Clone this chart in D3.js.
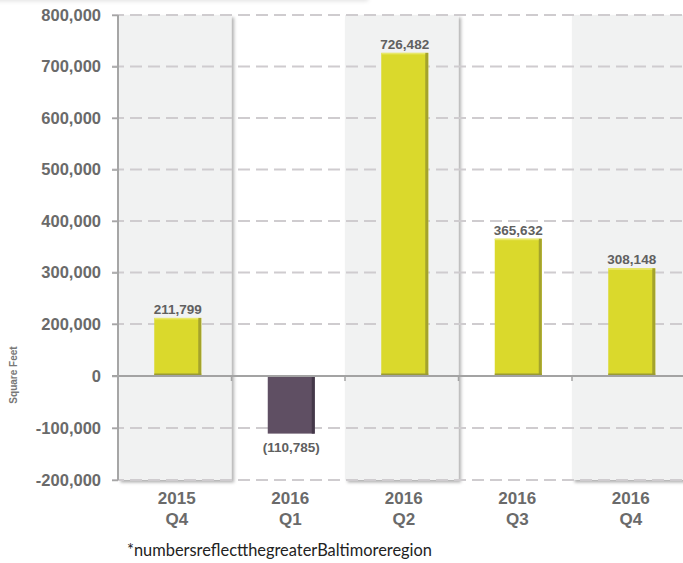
<!DOCTYPE html>
<html>
<head>
<meta charset="utf-8">
<script src="https://cdn.jsdelivr.net/npm/d3@7"></script>
<style>
  html, body { margin: 0; padding: 0; background: #ffffff; }
  svg { display: block; }
</style>
</head>
<body>
<svg id="chart" width="683" height="563"></svg>
<script>
// ---- data ----
const categories = ["2015 Q4", "2016 Q1", "2016 Q2", "2016 Q3", "2016 Q4"];
const yearLabels = ["2015", "2016", "2016", "2016", "2016"];
const quarterLabels = ["Q4", "Q1", "Q2", "Q3", "Q4"];
const values = [211799, -110785, 726482, 365632, 308148];
const tickValues = [-200000, -100000, 0, 200000, 300000, 400000, 500000, 600000, 700000, 800000];
const yTitle = "Square Feet";
const footnote = "*numbersreflectthegreaterBaltimoreregion";

// ---- layout ----
const svg = d3.select("#chart");
const plotLeft = 118, plotRight = 685.5, plotTop = 15, plotBottom = 480;
const comma = d3.format(",");
const fmtTick = v => (v < 0 ? "-" : "") + comma(Math.abs(v));

const y = d3.scaleLinear()
  .domain([-200000, 0, 200000, 800000])
  .range([plotBottom, 376, 324, plotTop]);

const x = d3.scaleBand()
  .domain(categories)
  .range([plotLeft, plotRight])
  .paddingInner(0).paddingOuter(0);

const defs = svg.append("defs");
const sh = defs.append("filter").attr("id", "bandShadow")
  .attr("x", "-5%").attr("y", "-5%").attr("width", "115%").attr("height", "115%");
sh.append("feDropShadow").attr("dx", 2.5).attr("dy", 2.5).attr("stdDeviation", 1.6)
  .attr("flood-color", "#000").attr("flood-opacity", 0.3);
const topSh = defs.append("filter").attr("id", "topShadow")
  .attr("x", "-10%").attr("y", "-50%").attr("width", "120%").attr("height", "250%");
topSh.append("feDropShadow").attr("dx", 0).attr("dy", 1).attr("stdDeviation", 2)
  .attr("flood-color", "#000").attr("flood-opacity", 0.12);

// faint box edge at the top
svg.append("rect").attr("x", -10).attr("y", -20).attr("width", 378).attr("height", 20)
  .attr("fill", "#fff").attr("filter", "url(#topShadow)");

// alternating shaded bands
svg.append("g").selectAll("rect")
  .data(categories.filter((d, i) => i % 2 === 0))
  .join("rect")
  .attr("x", d => x(d))
  .attr("y", plotTop)
  .attr("width", x.bandwidth())
  .attr("height", plotBottom - plotTop)
  .attr("fill", "#f1f2f2")
  .attr("filter", "url(#bandShadow)");

// dashed gridlines
svg.append("g").selectAll("line")
  .data(tickValues.filter(v => v !== 0))
  .join("line")
  .attr("x1", plotLeft - 6).attr("x2", plotRight)
  .attr("y1", d => y(d)).attr("y2", d => y(d))
  .attr("stroke", "#cfcccf").attr("stroke-width", 2)
  .attr("stroke-dasharray", "12,6");

// bars
const barW = 47, barShift = 3;
const bars = svg.append("g").selectAll("g")
  .data(values.map((v, i) => ({ cat: categories[i], v })))
  .join("g");

bars.append("rect")
  .attr("x", d => x(d.cat) + x.bandwidth() / 2 - barW / 2 + barShift)
  .attr("y", d => y(Math.max(0, d.v)))
  .attr("width", barW)
  .attr("height", d => Math.abs(y(d.v) - y(0)))
  .attr("fill", d => d.v >= 0 ? "#dad92c" : "#5f4f63");
// darker right face
bars.append("rect")
  .attr("x", d => x(d.cat) + x.bandwidth() / 2 + barW / 2 + barShift - 3)
  .attr("y", d => y(Math.max(0, d.v)))
  .attr("width", 3)
  .attr("height", d => Math.abs(y(d.v) - y(0)))
  .attr("fill", d => d.v >= 0 ? "#a4a32c" : "#443849");
// top highlight
bars.filter(d => d.v >= 0).append("rect")
  .attr("x", d => x(d.cat) + x.bandwidth() / 2 - barW / 2 + barShift)
  .attr("y", d => y(d.v))
  .attr("width", barW - 3)
  .attr("height", 1.5)
  .attr("fill", "#e8e86a");
// darker base
bars.filter(d => d.v >= 0).append("rect")
  .attr("x", d => x(d.cat) + x.bandwidth() / 2 - barW / 2 + barShift)
  .attr("y", y(0) - 2.5)
  .attr("width", barW)
  .attr("height", 2.5)
  .attr("fill", "#9a9a34");

// value labels
bars.append("text")
  .attr("x", d => x(d.cat) + x.bandwidth() / 2 + barShift)
  .attr("y", d => d.v >= 0 ? y(d.v) - 4 : y(d.v) + 18)
  .attr("text-anchor", "middle")
  .attr("font-family", "Liberation Sans, Arial, sans-serif")
  .attr("font-weight", "bold")
  .attr("font-size", 13.5)
  .attr("fill", "#606060")
  .text(d => d.v >= 0 ? comma(d.v) : "(" + comma(-d.v) + ")");

// zero line
svg.append("line")
  .attr("x1", plotLeft - 6).attr("x2", plotRight)
  .attr("y1", y(0)).attr("y2", y(0))
  .attr("stroke", "#a3a3a3").attr("stroke-width", 2);
// category ticks on zero line
svg.append("g").selectAll("line")
  .data(categories.slice(1))
  .join("line")
  .attr("x1", d => x(d)).attr("x2", d => x(d))
  .attr("y1", y(0)).attr("y2", y(0) + 5)
  .attr("stroke", "#a3a3a3").attr("stroke-width", 1.5);

// y axis
const yAxis = d3.axisLeft(y)
  .tickValues(tickValues)
  .tickSize(6)
  .tickPadding(11)
  .tickFormat(fmtTick);
const gy = svg.append("g").attr("transform", `translate(${plotLeft},0)`).call(yAxis);
gy.select(".domain").attr("stroke", "#a6a6a6").attr("stroke-width", 2)
  .attr("d", `M0,${plotTop}V${plotBottom}`);
gy.selectAll(".tick line").attr("stroke", "#a6a6a6").attr("stroke-width", 1.5);
gy.selectAll(".tick text")
  .attr("font-family", "Liberation Sans, Arial, sans-serif")
  .attr("font-weight", "bold")
  .attr("font-size", 16.5)
  .attr("fill", "#6a6a6a");

// x labels
const xl = svg.append("g").selectAll("text")
  .data(categories)
  .join("text")
  .attr("text-anchor", "middle")
  .attr("font-family", "Liberation Sans, Arial, sans-serif")
  .attr("font-weight", "bold")
  .attr("font-size", 17)
  .attr("fill", "#6a6a6a");
xl.append("tspan").attr("x", d => x(d) + x.bandwidth() / 2 + 2).attr("y", 503.5)
  .text((d, i) => yearLabels[i]);
xl.append("tspan").attr("x", d => x(d) + x.bandwidth() / 2 + 2).attr("y", 524.5)
  .text((d, i) => quarterLabels[i]);

// y title
svg.append("text")
  .attr("transform", `translate(17,${y(0) - 1}) rotate(-90)`)
  .attr("text-anchor", "middle")
  .attr("font-family", "Liberation Sans, Arial, sans-serif")
  .attr("font-weight", "bold")
  .attr("font-size", 10)
  .attr("fill", "#777")
  .text(yTitle);

// footnote
svg.append("text")
  .attr("x", 127).attr("y", 556)
  .attr("font-family", "Lato, sans-serif")
  .attr("font-size", 18)
  .attr("fill", "#222")
  .attr("textLength", 305)
  .attr("lengthAdjust", "spacingAndGlyphs")
  .text(footnote);
</script>
</body>
</html>
